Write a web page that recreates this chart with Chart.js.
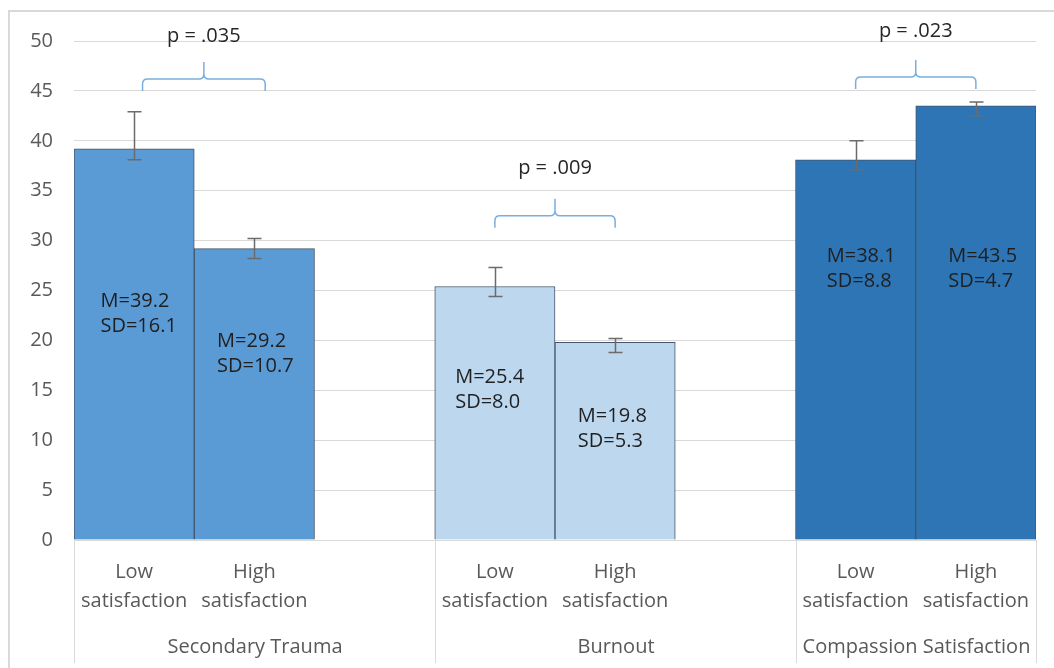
<!DOCTYPE html>
<html>
<head>
<meta charset="utf-8">
<script src="https://cdn.jsdelivr.net/npm/chart.js@4.4.1/dist/chart.umd.min.js"></script>
<style>
html,body{margin:0;padding:0;background:#fff;}
#wrap{width:1054px;height:668px;position:relative;}
</style>
</head>
<body>
<div id="wrap"><canvas id="c" width="1054" height="668"></canvas></div>
<script>
// ---- data ----
const categories = [['Low','satisfaction'],['High','satisfaction'],'',['Low','satisfaction'],['High','satisfaction'],'',['Low','satisfaction'],['High','satisfaction']];
const groupNames = ['Secondary Trauma','Burnout','Compassion Satisfaction'];
const groupOf = [0,0,null,1,1,null,2,2];
const means = [39.2,29.2,null,25.4,19.8,null,38.1,43.5];
const sds = [16.1,10.7,null,8.0,5.3,null,8.8,4.7];
const errLow = [38.1,28.2,null,24.4,18.8,null,37.1,42.5];
const errHigh = [42.9,30.2,null,27.3,20.2,null,40.0,43.9];
const pValues = ['p = .035','p = .009','p = .023'];
const yTicks = [0,5,10,15,20,25,30,35,40,45,50];

// ---- annotation placement (data units) ----
const labelAt = [[0.22,23.9],[0.19,19.9],null,[0.17,16.3],[0.19,12.4],null,[0.26,28.4],[0.27,28.4]];
const brackets = [{from:0.07,to:1.09,tip:45.0,bar:46.2,peak:47.9,text:50.5},
                  {from:3.0,to:4.0,tip:31.3,bar:32.5,peak:34.2,text:37.2},
                  {from:6.0,to:7.0,tip:45.2,bar:46.4,peak:48.1,text:51.0}];

const groupColors = ['#5B9BD5','#BDD7EE','#2E75B6'];
const FONT = '"Open Sans"';
const TXT = '#595959';

const overlay = {
  id:'overlay',
  afterDatasetsDraw(chart){
    const ctx = chart.ctx, x = chart.scales.x, y = chart.scales.y;
    const cw = x.getPixelForValue(1) - x.getPixelForValue(0);
    ctx.save();
    // error bars
    ctx.strokeStyle = '#6b6b6b'; ctx.lineWidth = 1.5;
    for (let i=0;i<means.length;i++){
      if (means[i]==null) continue;
      const cx = Math.round(x.getPixelForValue(i))+0.5;
      const yl = y.getPixelForValue(errLow[i]), yh = y.getPixelForValue(errHigh[i]);
      ctx.beginPath();
      ctx.moveTo(cx,yl); ctx.lineTo(cx,yh);
      ctx.moveTo(cx-7,yl); ctx.lineTo(cx+7,yl);
      ctx.moveTo(cx-7,yh); ctx.lineTo(cx+7,yh);
      ctx.stroke();
    }
    // M / SD labels
    ctx.fillStyle = '#1f1f1f'; ctx.font = '20px '+FONT; ctx.textAlign='left'; ctx.textBaseline='middle';
    for (let i=0;i<means.length;i++){
      if (means[i]==null) continue;
      const lx = x.getPixelForValue(i) - cw/2 + labelAt[i][0]*cw;
      const ly = y.getPixelForValue(labelAt[i][1]);
      ctx.fillText('M='+means[i].toFixed(1), lx, ly);
      ctx.fillText('SD='+sds[i].toFixed(1), lx, ly+25);
    }
    ctx.restore();
  },
  afterDraw(chart){
    const ctx = chart.ctx, x = chart.scales.x, y = chart.scales.y, a = chart.chartArea;
    const cw = x.getPixelForValue(1) - x.getPixelForValue(0);
    ctx.save();
    // brackets
    ctx.strokeStyle = '#7AAEDF'; ctx.lineWidth = 1.5;
    brackets.forEach((b,k)=>{
      const x1 = x.getPixelForValue(b.from), x2 = x.getPixelForValue(b.to), xm = (x1+x2)/2;
      const yt = y.getPixelForValue(b.tip), yb = y.getPixelForValue(b.bar), yp = y.getPixelForValue(b.peak);
      const r = 5;
      ctx.beginPath();
      ctx.moveTo(x1,yt); ctx.lineTo(x1,yb+r); ctx.quadraticCurveTo(x1,yb,x1+r,yb);
      ctx.lineTo(xm-r,yb); ctx.quadraticCurveTo(xm,yb,xm,yb-r);
      ctx.lineTo(xm,yp);
      ctx.moveTo(xm,yb-r); ctx.quadraticCurveTo(xm,yb,xm+r,yb);
      ctx.lineTo(x2-r,yb); ctx.quadraticCurveTo(x2,yb,x2,yb+r); ctx.lineTo(x2,yt);
      ctx.stroke();
      ctx.fillStyle = '#262626'; ctx.font = '20px '+FONT; ctx.textAlign='center'; ctx.textBaseline='middle';
      ctx.fillText(pValues[k], xm, y.getPixelForValue(b.text));
    });
    // category dividers & group labels
    ctx.strokeStyle = '#d9d9d9'; ctx.lineWidth = 1;
    const edges = [0,3,6,8].map(i=>Math.round(x.getPixelForValue(i) - cw/2)+0.5);
    ctx.beginPath();
    edges.forEach(e=>{ctx.moveTo(e,a.bottom); ctx.lineTo(e,663);});
    ctx.stroke();
    ctx.fillStyle = TXT; ctx.font = '20px '+FONT; ctx.textAlign='center'; ctx.textBaseline='middle';
    groupNames.forEach((g,k)=>{ctx.fillText(g,(edges[k]+edges[k+1])/2,647);});
    // outer frame
    ctx.strokeStyle = '#d9d9d9'; ctx.lineWidth = 2;
    ctx.beginPath(); ctx.moveTo(9,700); ctx.lineTo(9,11); ctx.lineTo(1060,11); ctx.stroke();
    ctx.restore();
  }
};

new Chart(document.getElementById('c'), {
  type:'bar',
  data:{
    labels: categories,
    datasets:[{
      data: means,
      backgroundColor: groupOf.map(g=>g==null?'rgba(0,0,0,0)':groupColors[g]),
      borderColor:'#44546A',
      borderWidth:1,
      barPercentage:1,
      categoryPercentage:1
    }]
  },
  options:{
    responsive:false, animation:false, devicePixelRatio:1,
    layout:{padding:{top:41,right:18,left:0,bottom:0}},
    plugins:{legend:{display:false},tooltip:{enabled:false}},
    scales:{
      x:{
        grid:{display:false,drawTicks:false}, border:{display:false},
        ticks:{font:{family:'Open Sans',size:20,lineHeight:1.45},color:TXT,padding:18,maxRotation:0,autoSkip:false},
        afterFit(s){s.height=128;}
      },
      y:{
        min:0,max:50,
        grid:{color:'#d9d9d9',drawTicks:false,lineWidth:1}, border:{display:false},
        ticks:{stepSize:5,font:{family:'Open Sans',size:20},color:TXT,padding:21,
               callback:(v)=>yTicks.includes(v)?String(v):''},
        afterFit(s){s.width=74;}
      }
    }
  },
  plugins:[overlay]
});
</script>
</body>
</html>
